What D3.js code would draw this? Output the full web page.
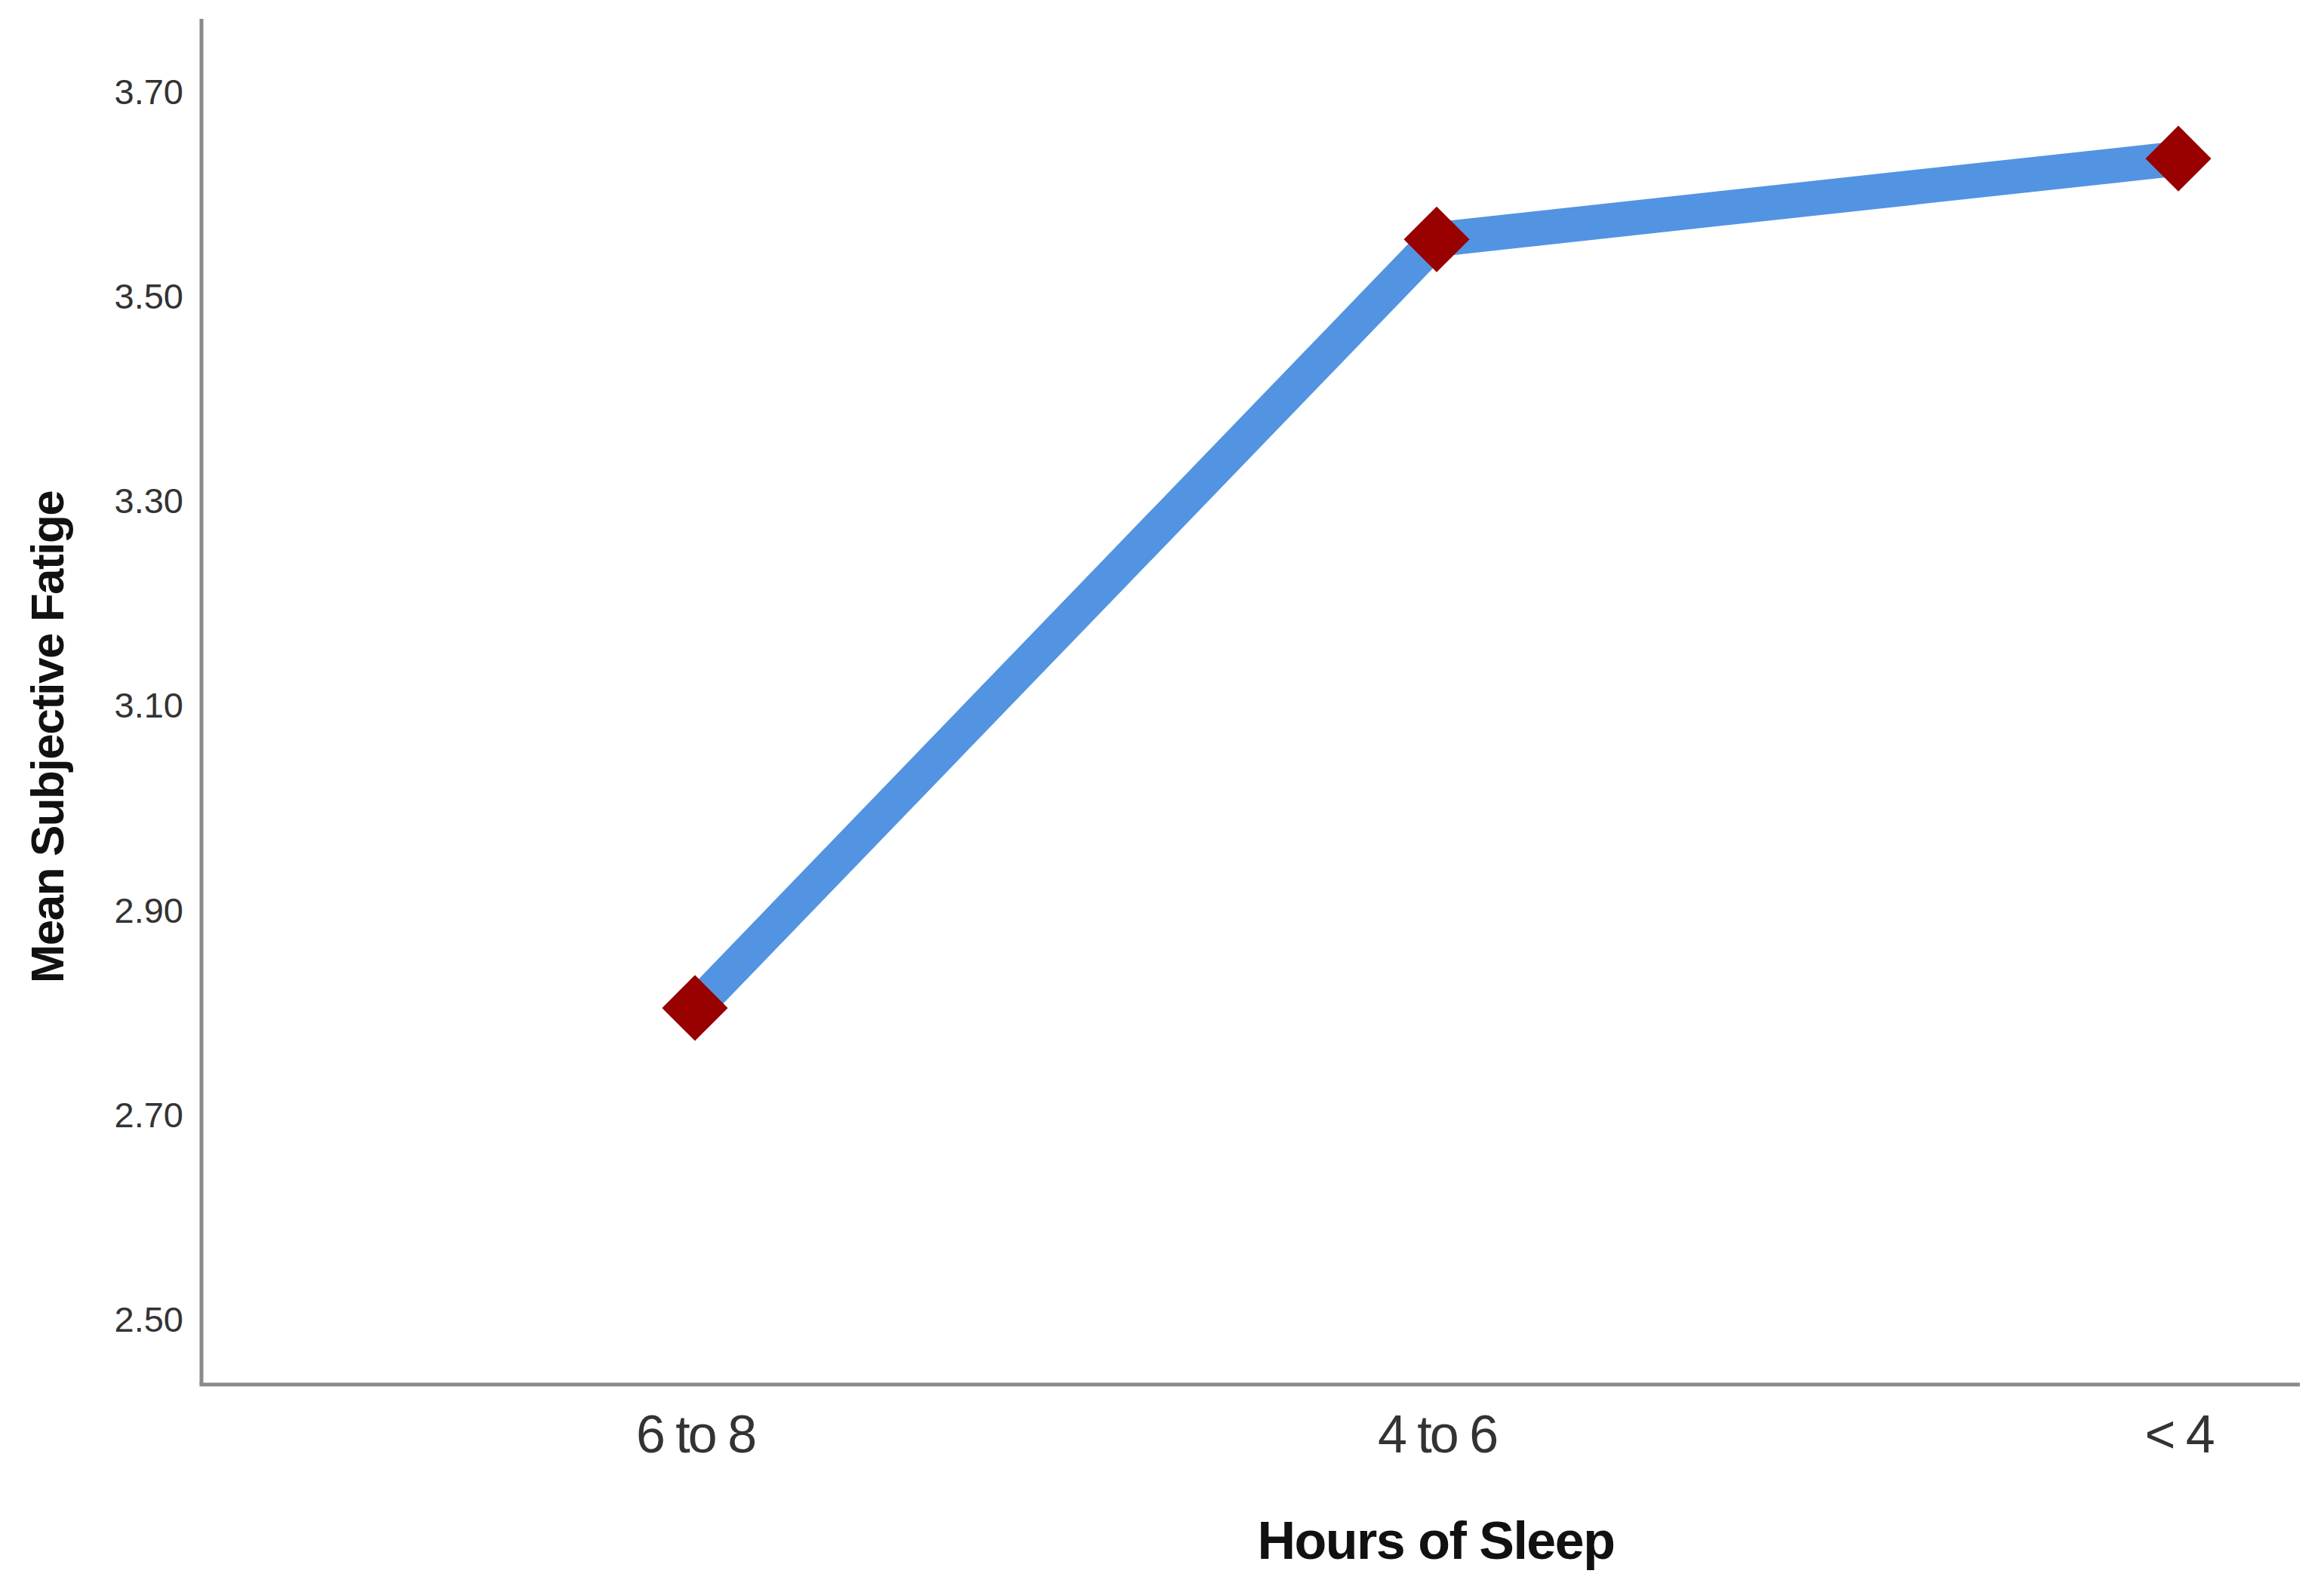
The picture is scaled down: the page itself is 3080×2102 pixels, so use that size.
<!DOCTYPE html>
<html>
<head>
<meta charset="utf-8">
<script src="https://cdn.jsdelivr.net/npm/d3@7"></script>
<style>
  html, body { margin: 0; padding: 0; background: #ffffff; }
  svg { display: block; }
</style>
</head>
<body>
<svg id="chart" width="3080" height="2102"></svg>
<script>
// ---- Data ----
const categories = ["6 to 8", "4 to 6", "< 4"];
const meanFatigue = [2.805, 3.556, 3.635];
const yTickValues = [2.50, 2.70, 2.90, 3.10, 3.30, 3.50, 3.70];
const xTitle = "Hours of Sleep";
const yTitle = "Mean Subjective Fatige";

// ---- Layout ----
const W = 3080, H = 2102;
const plotLeft = 267, plotRight = 3048, plotTop = 25, plotBottom = 1835;

const svg = d3.select("#chart");
svg.append("rect").attr("width", W).attr("height", H).attr("fill", "#ffffff");

const y = d3.scaleLinear().domain([2.437, 3.7715]).range([plotBottom, plotTop]);
const x = d3.scalePoint().domain(categories).range([921, 2887]);

// Axis lines
svg.append("line")
  .attr("x1", plotLeft).attr("x2", plotLeft)
  .attr("y1", plotTop).attr("y2", plotBottom)
  .attr("stroke", "#8a8a8a").attr("stroke-width", 5);
svg.append("line")
  .attr("x1", plotLeft - 2.5).attr("x2", plotRight)
  .attr("y1", plotBottom).attr("y2", plotBottom)
  .attr("stroke", "#8a8a8a").attr("stroke-width", 5);

// Y axis ticks (labels only)
const yAxis = d3.axisLeft(y).tickValues(yTickValues).tickFormat(d3.format(".2f")).tickSize(0).tickPadding(24);
const gy = svg.append("g").attr("transform", `translate(${plotLeft},0)`).call(yAxis);
gy.select(".domain").remove();
gy.selectAll("text")
  .attr("font-family", "Liberation Sans, Arial, sans-serif")
  .attr("font-size", 47)
  .attr("fill", "#333333");

// X axis ticks (labels only)
const xAxis = d3.axisBottom(x).tickSize(0).tickPadding(40);
const gx = svg.append("g").attr("transform", `translate(0,${plotBottom})`).call(xAxis);
gx.select(".domain").remove();
gx.selectAll("text")
  .attr("font-family", "Liberation Sans, Arial, sans-serif")
  .attr("font-size", 70)
  .attr("letter-spacing", -3)
  .attr("fill", "#333333");

// Axis titles
svg.append("text")
  .attr("x", 1903).attr("y", 2066)
  .attr("text-anchor", "middle")
  .attr("font-family", "Liberation Sans, Arial, sans-serif")
  .attr("font-weight", "bold")
  .attr("font-size", 70)
  .attr("letter-spacing", -1.5)
  .attr("fill", "#111111")
  .text(xTitle);

svg.append("text")
  .attr("transform", "translate(84,977) rotate(-90)")
  .attr("text-anchor", "middle")
  .attr("font-family", "Liberation Sans, Arial, sans-serif")
  .attr("font-weight", "bold")
  .attr("font-size", 62)
  .attr("letter-spacing", -1.5)
  .attr("fill", "#111111")
  .text(yTitle);

// Line
const pts = categories.map((c, i) => ({ c, v: meanFatigue[i] }));
const line = d3.line().x(d => x(d.c)).y(d => y(d.v));
svg.append("path")
  .datum(pts)
  .attr("d", line)
  .attr("fill", "none")
  .attr("stroke", "#5294E2")
  .attr("stroke-width", 46)
  .attr("stroke-linejoin", "round");

// Diamond markers
const sym = d3.symbol(d3.symbolSquare, 3800);
svg.selectAll(".marker")
  .data(pts)
  .enter().append("path")
  .attr("class", "marker")
  .attr("d", sym)
  .attr("transform", d => `translate(${x(d.c)},${y(d.v)}) rotate(45)`)
  .attr("fill", "#990000");
</script>
</body>
</html>
